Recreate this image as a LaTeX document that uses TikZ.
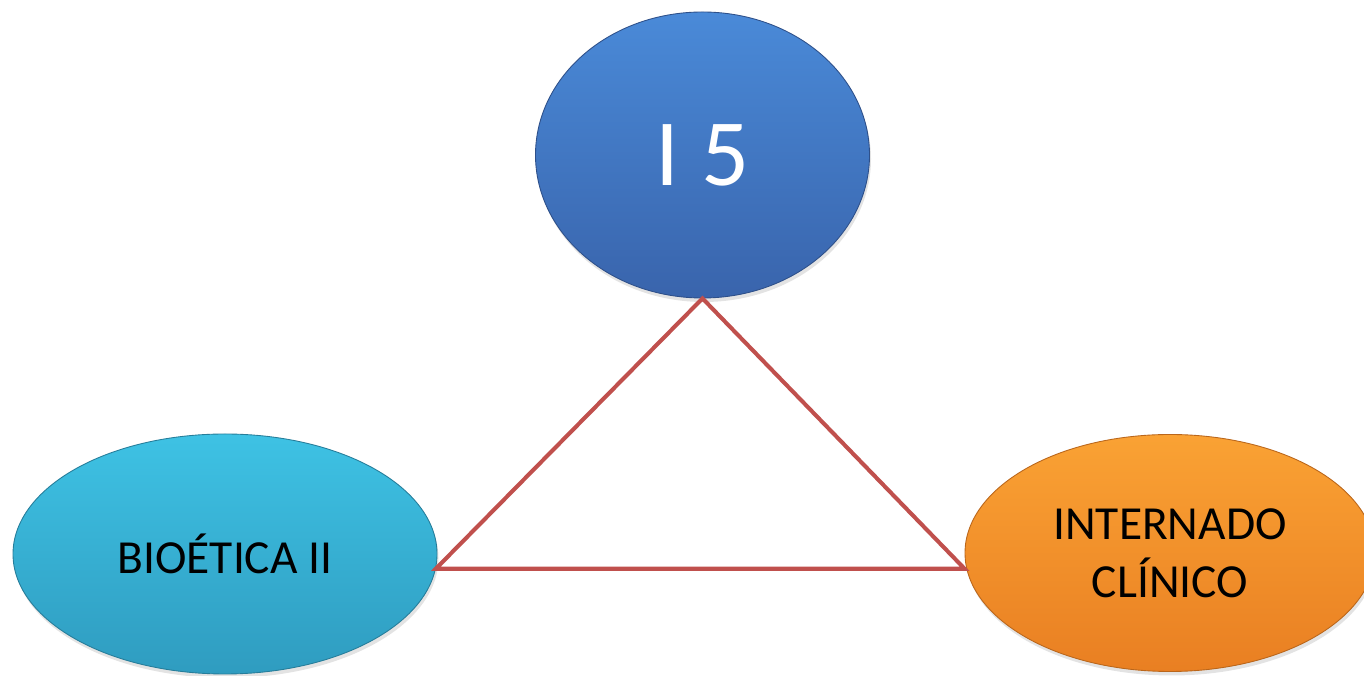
\documentclass[tikz,border=0pt]{standalone}
\usepackage{fontspec}
\setmainfont{Carlito}
\usetikzlibrary{shapes.geometric,shadows}

\definecolor{blueTop}{HTML}{4A8AD8}
\definecolor{blueBot}{HTML}{3964AC}
\definecolor{cyanTop}{HTML}{3EC2E4}
\definecolor{cyanBot}{HTML}{2F9CC0}
\definecolor{orangeTop}{HTML}{FAA234}
\definecolor{orangeBot}{HTML}{E97F22}
\definecolor{lineRed}{HTML}{C0504D}

\begin{document}
\begin{tikzpicture}[
    every node/.style={font=\fontsize{27}{33}\selectfont},
    topic/.style={ellipse, inner sep=0pt, align=center, line width=0.5pt,
        drop shadow={opacity=0.22, shadow xshift=0.03cm, shadow yshift=-0.08cm}},
    link/.style={draw=lineRed, line width=2.3pt, line join=miter}
]
    \useasboundingbox (0,0) rectangle (27.28,13.52);

    \node[topic, draw=blueBot!80!black, top color=blueTop, bottom color=blueBot,
        minimum width=6.68cm, minimum height=5.72cm, text=white,
        font=\fontsize{54}{65}\selectfont] (i5) at (14.05, 10.42) {I 5};
    \node[topic, draw=cyanBot!80!black, top color=cyanTop, bottom color=cyanBot,
        minimum width=8.48cm, minimum height=4.8cm] (bio) at (4.5, 2.44) {BIOÉTICA II};
    \node[topic, draw=orangeBot!80!black, top color=orangeTop, bottom color=orangeBot,
        minimum width=8.2cm, minimum height=4.74cm] (intern) at (23.4, 2.46) {INTERNADO\\CLÍNICO};

    \draw[link] (i5.south) -- (bio.-4.5) -- (bio.-4.5 -| intern.west) -- cycle;
\end{tikzpicture}
\end{document}
